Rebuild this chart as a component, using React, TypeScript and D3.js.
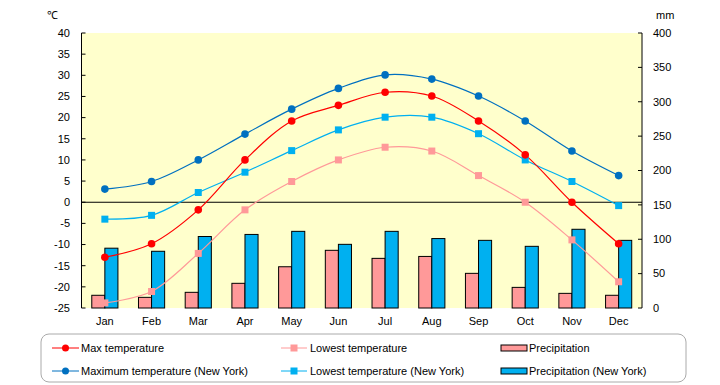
import React from "react";
import * as d3 from "d3";

const months = ["Jan","Feb","Mar","Apr","May","Jun","Jul","Aug","Sep","Oct","Nov","Dec"];
const maxTemp = [-13, -9.8, -1.8, 10, 19.2, 22.9, 26, 25.1, 19.2, 11.2, 0, -9.8];
const lowTemp = [-23.8, -21.1, -12.1, -1.8, 4.9, 10, 13, 12.1, 6.3, 0, -8.9, -18.8];
const precip = [18.5, 15.5, 22.8, 35.9, 60, 83.9, 72.2, 75, 50.4, 30, 21.3, 18.5];
const maxTempNY = [3.1, 4.9, 10, 16.1, 22, 26.9, 30.1, 29.1, 25.1, 19.2, 12.1, 6.3];
const lowTempNY = [-4, -3.1, 2.3, 7.1, 12.2, 17.1, 20.1, 20.1, 16.2, 10, 4.9, -0.8];
const precipNY = [87, 82.5, 104, 107, 111.5, 92.6, 111.5, 101, 98.4, 89.7, 114.5, 98.4];
const tempTicks = [40, 35, 30, 25, 20, 15, 10, 5, 0, -5, -10, -15, -20, -25];
const precipTicks = [0, 50, 100, 150, 200, 250, 300, 350, 400];

const FONT = "'Liberation Sans', Arial, sans-serif";

export default function App() {
  const left = 81.5, right = 642, top = 33, bottom = 308;
  const x = d3.scaleBand<string>().domain(months).range([left, right]).padding(0);
  const yT = d3.scaleLinear().domain([-25, 40]).range([bottom, top]);
  const yP = d3.scaleLinear().domain([0, 400]).range([bottom, top]);
  const bw = x.bandwidth();
  const barW = bw * 0.28;
  const cx = (m: string) => (x(m) as number) + bw / 2;

  const line = (vals: number[]) =>
    d3.line<number>()
      .x((_, i) => cx(months[i]))
      .y((v) => yT(v))
      .curve(d3.curveCatmullRom.alpha(0.5))(vals) as string;

  const red = "#FF0000", pink = "#FF9999", dblue = "#0070C0", lblue = "#00B0F0";

  const circles = (vals: number[], color: string, key: string) =>
    vals.map((v, i) => (
      <circle key={key + i} cx={cx(months[i])} cy={yT(v)} r={3.8} fill={color} />
    ));
  const squares = (vals: number[], color: string, key: string) =>
    vals.map((v, i) => (
      <rect key={key + i} x={cx(months[i]) - 3.5} y={yT(v) - 3.5} width={7} height={7} fill={color} />
    ));

  return (
    <svg width={720} height={385} style={{ position: "absolute", left: 0, top: 0 }} fontFamily={FONT}>
      <rect x={0} y={0} width={720} height={385} fill="#fff" />
      <rect x={left} y={top} width={right - left} height={bottom - top} fill="#FFFFCC" />

      {/* bars */}
      {precip.map((v, i) => (
        <rect key={"p" + i} x={cx(months[i]) - barW} y={yP(v)} width={barW} height={bottom - yP(v)}
          fill={pink} stroke="#000" strokeWidth={1} />
      ))}
      {precipNY.map((v, i) => (
        <rect key={"pn" + i} x={cx(months[i])} y={yP(v)} width={barW} height={bottom - yP(v)}
          fill={lblue} stroke="#000" strokeWidth={1} />
      ))}

      {/* zero line */}
      <line x1={left} x2={right} y1={yT(0)} y2={yT(0)} stroke="#000" strokeWidth={1.2} />

      {/* lines */}
      <path d={line(maxTempNY)} fill="none" stroke={dblue} strokeWidth={1.2} />
      <path d={line(lowTempNY)} fill="none" stroke={lblue} strokeWidth={1.2} />
      <path d={line(lowTemp)} fill="none" stroke={pink} strokeWidth={1.2} />
      <path d={line(maxTemp)} fill="none" stroke={red} strokeWidth={1.2} />
      {circles(maxTempNY, dblue, "mn")}
      {squares(lowTempNY, lblue, "ln")}
      {squares(lowTemp, pink, "l")}
      {circles(maxTemp, red, "m")}

      {/* left axis */}
      <line x1={left} x2={left} y1={top} y2={bottom} stroke="#000" />
      {tempTicks.map((t) => (
        <g key={"t" + t}>
          <line x1={left} x2={left + 4} y1={yT(t)} y2={yT(t)} stroke="#000" />
          <text x={70} y={yT(t)} dy="0.35em" textAnchor="end" fontSize={11}>{t}</text>
        </g>
      ))}
      {/* right axis */}
      <line x1={right} x2={right} y1={top} y2={bottom} stroke="#000" />
      {precipTicks.map((t) => (
        <g key={"pt" + t}>
          <line x1={right - 4} x2={right} y1={yP(t)} y2={yP(t)} stroke="#000" />
          <text x={653} y={yP(t)} dy="0.35em" textAnchor="start" fontSize={11}>{t}</text>
        </g>
      ))}
      <text x={47} y={19} fontSize={11}>℃</text>
      <text x={656} y={19} fontSize={11}>mm</text>

      {/* x labels */}
      {months.map((m) => (
        <text key={m} x={cx(m)} y={321} dy="0.35em" textAnchor="middle" fontSize={11}>{m}</text>
      ))}

      {/* legend */}
      <rect x={41} y={334} width={645} height={48} rx={8} ry={8} fill="#fff" stroke="#aaa" strokeWidth={1} />
      <g fontSize={11}>
        <line x1={52} x2={79} y1={348} y2={348} stroke={red} />
        <circle cx={65.5} cy={348} r={3.5} fill={red} />
        <text x={81} y={348} dy="0.35em">Max temperature</text>

        <line x1={52} x2={79} y1={371} y2={371} stroke={dblue} />
        <circle cx={65.5} cy={371} r={3.5} fill={dblue} />
        <text x={81} y={371} dy="0.35em">Maximum temperature (New York)</text>

        <line x1={281} x2={307} y1={348} y2={348} stroke={pink} />
        <rect x={290.5} y={344.5} width={7} height={7} fill={pink} />
        <text x={310} y={348} dy="0.35em">Lowest temperature</text>

        <line x1={281} x2={307} y1={371} y2={371} stroke={lblue} />
        <rect x={290.5} y={367.5} width={7} height={7} fill={lblue} />
        <text x={310} y={371} dy="0.35em">Lowest temperature (New York)</text>

        <rect x={501} y={345} width={26} height={6} fill={pink} stroke="#000" />
        <text x={529} y={348} dy="0.35em">Precipitation</text>

        <rect x={501} y={368} width={26} height={6} fill={lblue} stroke="#000" />
        <text x={529} y={371} dy="0.35em">Precipitation (New York)</text>
      </g>
    </svg>
  );
}
